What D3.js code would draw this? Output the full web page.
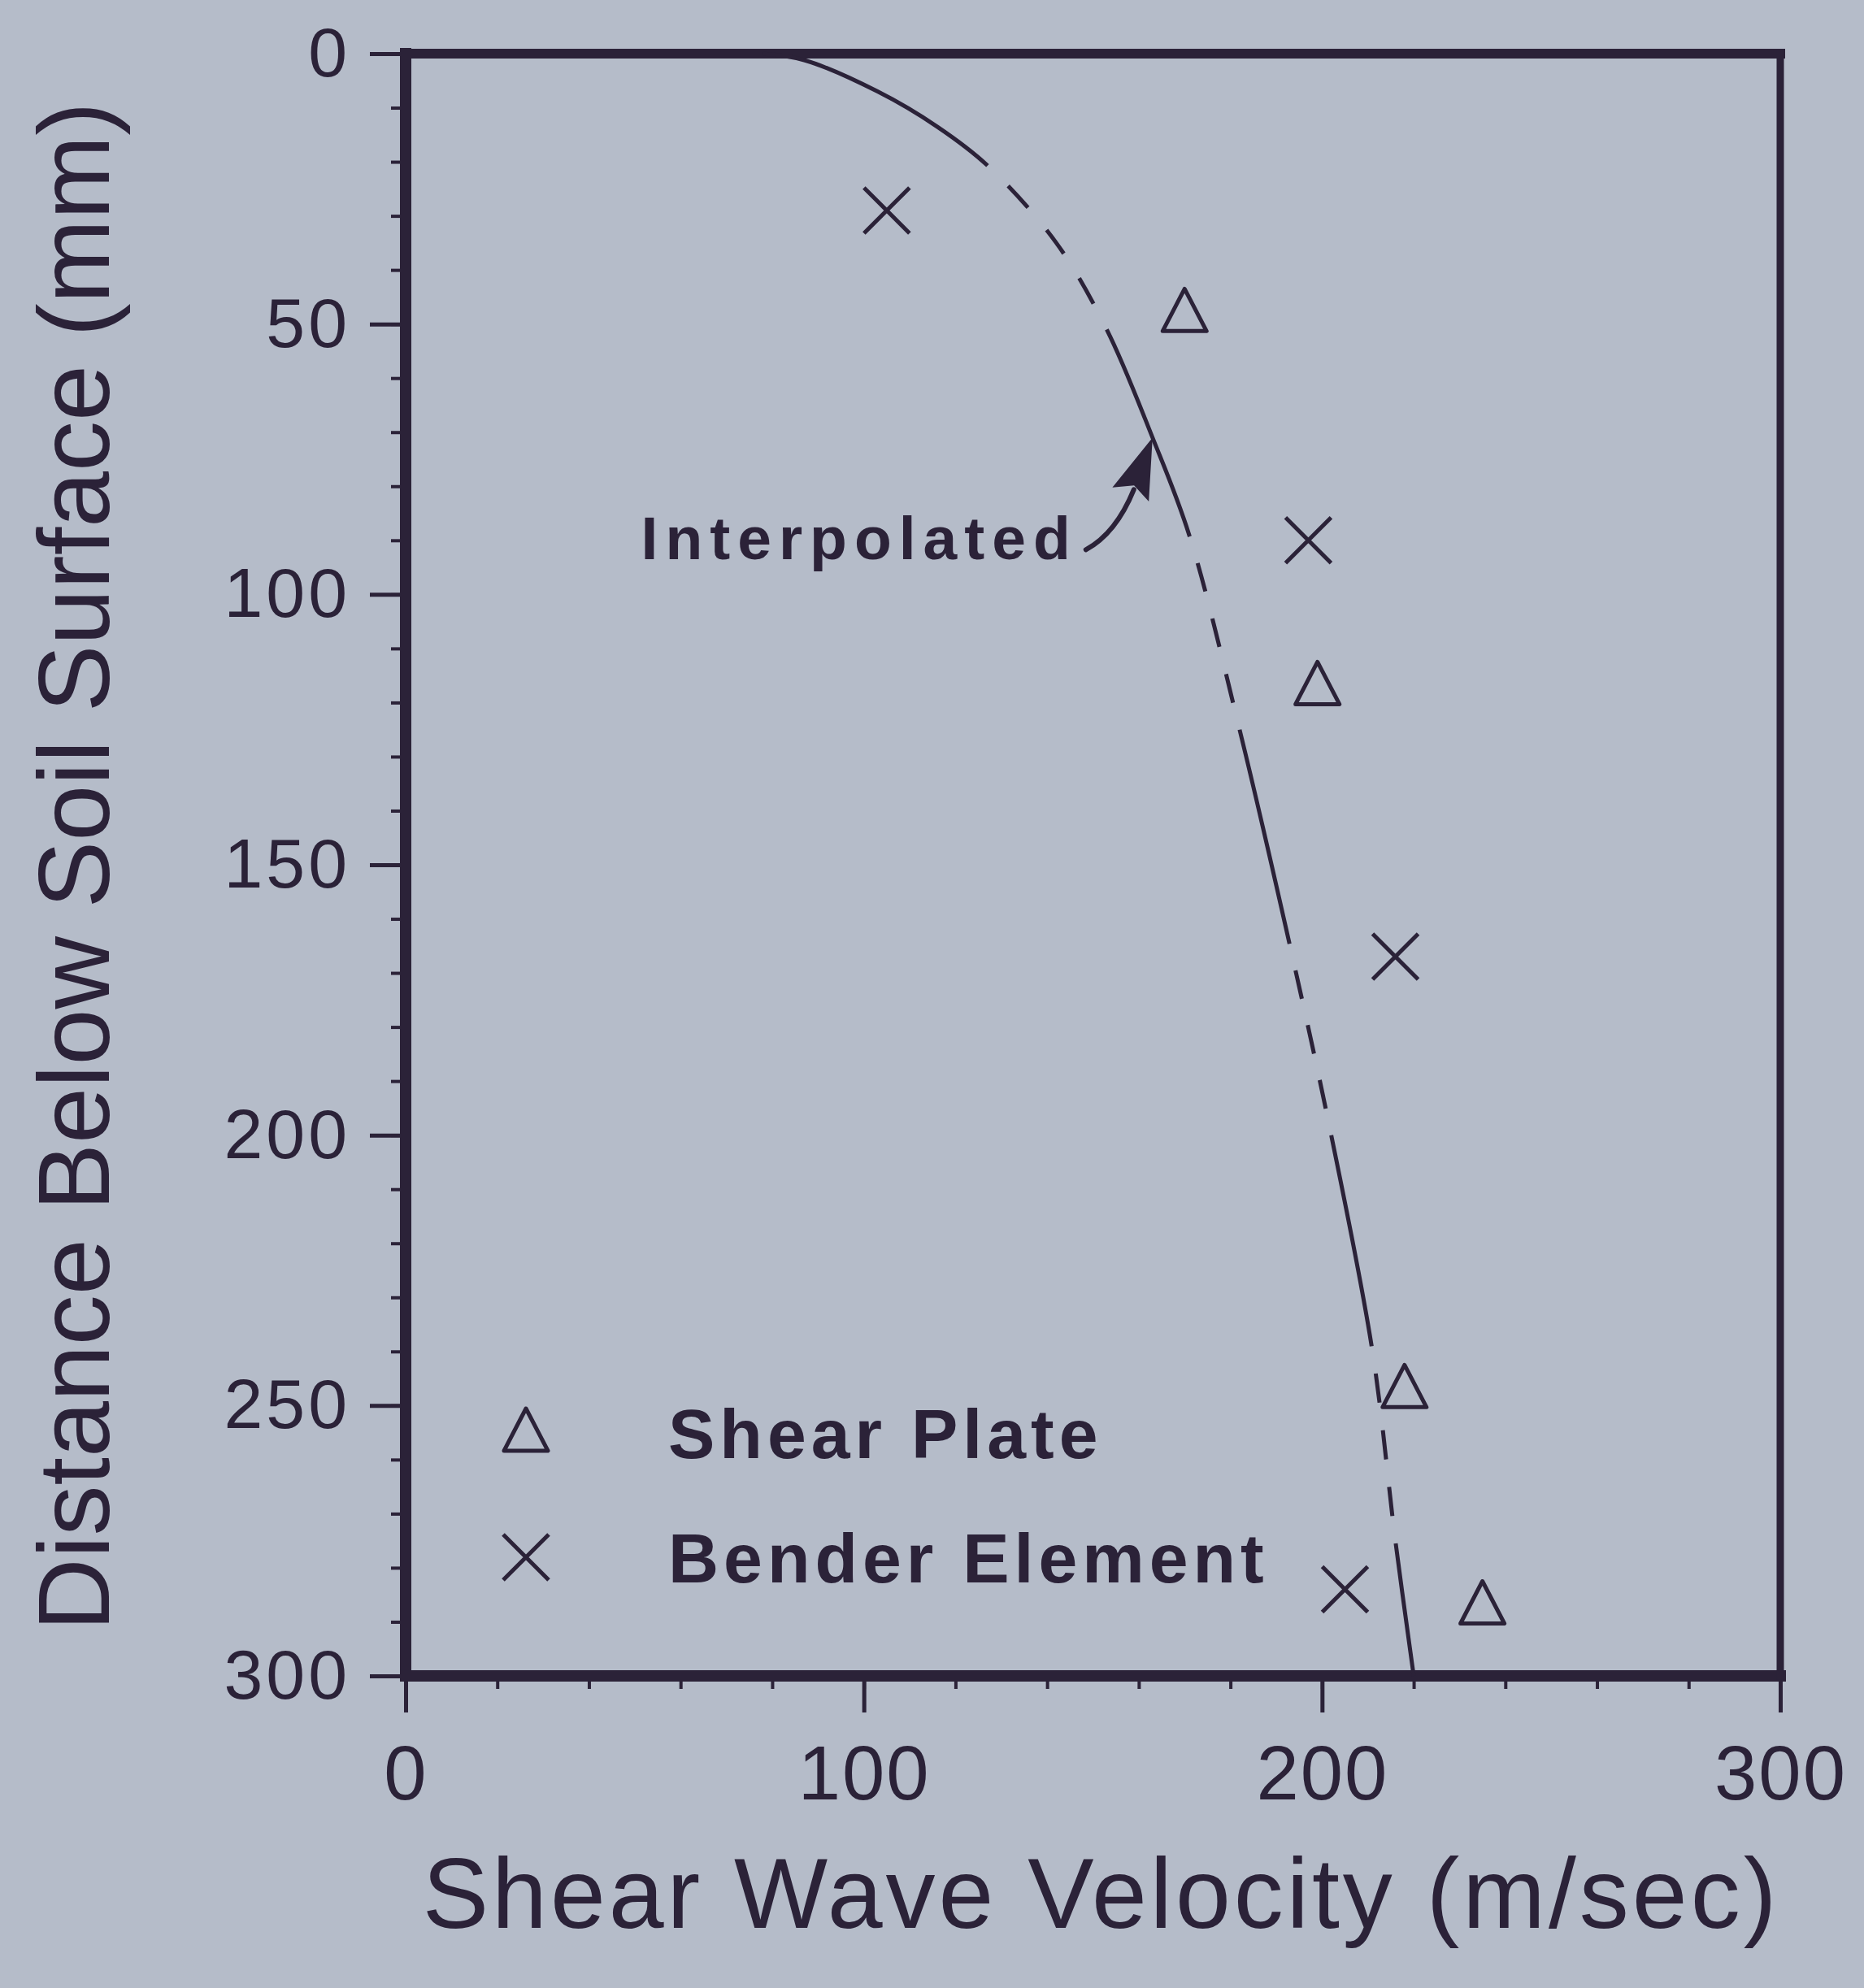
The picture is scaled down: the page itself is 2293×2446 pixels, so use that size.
<!DOCTYPE html>
<html>
<head>
<meta charset="utf-8">
<script src="https://cdn.jsdelivr.net/npm/d3@7"></script>
<style>
  html, body { margin: 0; padding: 0; background: #b5bcc9; }
  svg { display: block; }
</style>
</head>
<body>
<div id="chart"></div>
<script>
// values
const depthTicks = [0, 50, 100, 150, 200, 250, 300];
const velocityTicks = [0, 100, 200, 300];

// Shear Plate (triangles)
const plateVel = [170, 199, 218, 235];
const plateDepth = [48, 117, 247, 287];

// Bender Element (crosses)
const benderVel = [105, 197, 216, 205];
const benderDepth = [29, 90, 167, 284];

// fitted profile
const curveVel = [78, 87, 103, 116, 127, 142, 153, 163, 171, 182, 193, 202, 211, 216, 220];
const curveDepth = [0, 1.2, 7, 13.5, 20.7, 35, 51, 71, 89, 125, 165, 200, 240, 275, 300];

// depth ranges drawn solid, the rest is dashed (interpolated)
const solidFrom = [0, 51, 125, 200, 275.5];
const solidTo = [20.7, 89.3, 164.6, 239, 300];

const W = 2293, H = 2446;
const ink = "#2b2238";
const font = "'Liberation Sans', Arial, sans-serif";

const x = d3.scaleLinear().domain([0, 300]).range([499, 2190]);
const y = d3.scaleLinear().domain([0, 300]).range([66, 2062]);

const svg = d3.select("#chart").append("svg")
  .attr("width", W)
  .attr("height", H)
  .style("background", "#b5bcc9");

// minor ticks
svg.append("g")
  .attr("transform", `translate(${x(0)},0)`)
  .call(d3.axisLeft(y).tickValues(d3.range(0, 301, 10)).tickSize(18).tickFormat(""))
  .call(g => g.select(".domain").remove())
  .call(g => g.selectAll("line").attr("stroke", ink).attr("stroke-width", 4));

svg.append("g")
  .attr("transform", `translate(0,${y(300)})`)
  .call(d3.axisBottom(x).tickValues(d3.range(0, 301, 20)).tickSize(16).tickFormat(""))
  .call(g => g.select(".domain").remove())
  .call(g => g.selectAll("line").attr("stroke", ink).attr("stroke-width", 4));

// major ticks + labels
svg.append("g")
  .attr("transform", `translate(${x(0)},0)`)
  .call(d3.axisLeft(y).tickValues(depthTicks).tickSize(44).tickPadding(24))
  .call(g => g.select(".domain").remove())
  .call(g => g.selectAll("line").attr("stroke", ink).attr("stroke-width", 5))
  .call(g => g.selectAll("text")
    .attr("fill", ink)
    .style("font-family", font)
    .style("font-size", "86px")
    .style("letter-spacing", "4px"));

svg.append("g")
  .attr("transform", `translate(0,${y(300)})`)
  .call(d3.axisBottom(x).tickValues(velocityTicks).tickSize(45).tickPadding(40))
  .call(g => g.select(".domain").remove())
  .call(g => g.selectAll("line").attr("stroke", ink).attr("stroke-width", 5))
  .call(g => g.selectAll("text")
    .attr("fill", ink)
    .style("font-family", font)
    .style("font-size", "94px")
    .style("letter-spacing", "2px"));

// frame
const frame = svg.append("g").attr("stroke", ink).attr("stroke-linecap", "square");
frame.append("line").attr("x1", x(0)).attr("x2", x(300)).attr("y1", y(0)).attr("y2", y(0)).attr("stroke-width", 12);
frame.append("line").attr("x1", x(0)).attr("x2", x(300)).attr("y1", y(300)).attr("y2", y(300)).attr("stroke-width", 14);
frame.append("line").attr("x1", x(0)).attr("x2", x(0)).attr("y1", y(0)).attr("y2", y(300)).attr("stroke-width", 14);
frame.append("line").attr("x1", x(300)).attr("x2", x(300)).attr("y1", y(0)).attr("y2", y(300)).attr("stroke-width", 9);

// axis titles
svg.append("text")
  .attr("x", (x(0) + x(300)) / 2 + 10)
  .attr("y", 2372)
  .attr("text-anchor", "middle")
  .attr("fill", ink)
  .style("font-family", font)
  .style("font-size", "122px")
  .style("letter-spacing", "4px")
  .text("Shear Wave Velocity (m/sec)");

svg.append("text")
  .attr("transform", `translate(134,${(y(0) + y(300)) / 2 + 2}) rotate(-90)`)
  .attr("text-anchor", "middle")
  .attr("fill", ink)
  .style("font-family", font)
  .style("font-size", "124px")
  .text("Distance Below Soil Surface (mm)");

// fitted line, solid where measured, dashed where interpolated
const line = d3.line()
  .x(d => x(d[0]))
  .y(d => y(d[1]))
  .curve(d3.curveCatmullRom.alpha(0.5));

const profile = svg.append("path")
  .datum(d3.zip(curveVel, curveDepth))
  .attr("d", line)
  .attr("fill", "none")
  .attr("stroke", ink)
  .attr("stroke-width", 5);

const node = profile.node();
const total = node.getTotalLength();

function lengthAt(depth) {
  const target = y(depth);
  let lo = 0, hi = total;
  for (let i = 0; i < 40; i++) {
    const mid = (lo + hi) / 2;
    if (node.getPointAtLength(mid).y < target) lo = mid; else hi = mid;
  }
  return (lo + hi) / 2;
}

const dash = 36, gap = 32;
const pieces = [];
function pushDashed(len) {
  const n = Math.max(1, Math.round((len - gap) / (dash + gap)));
  const g = (len - n * dash) / (n + 1);
  pieces.push(["off", g]);
  for (let i = 0; i < n; i++) { pieces.push(["on", dash]); pieces.push(["off", g]); }
}
let prev = 0;
solidFrom.forEach((d0, i) => {
  const a = d0 <= 0 ? 0 : lengthAt(d0);
  const b = solidTo[i] >= 300 ? total : lengthAt(solidTo[i]);
  if (a > prev + 1) pushDashed(a - prev);
  pieces.push(["on", b - a]);
  prev = b;
});
if (prev < total - 1) pushDashed(total - prev);

const merged = [];
pieces.forEach(p => {
  if (merged.length && merged[merged.length - 1][0] === p[0]) merged[merged.length - 1][1] += p[1];
  else merged.push([p[0], p[1]]);
});
if (merged.length % 2) merged.push(["off", 0]);
profile.attr("stroke-dasharray", merged.map(p => p[1].toFixed(2)).join(","));

// symbols
const triPath = "M0,-30 L27,22 L-27,22 Z";
const crossPath = "M-28,-28 L28,28 M-28,28 L28,-28";

svg.append("g").selectAll("path")
  .data(d3.zip(plateVel, plateDepth))
  .join("path")
  .attr("transform", d => `translate(${x(d[0])},${y(d[1])})`)
  .attr("d", triPath)
  .attr("fill", "none")
  .attr("stroke", ink)
  .attr("stroke-width", 5)
  .attr("stroke-linejoin", "round");

svg.append("g").selectAll("path")
  .data(d3.zip(benderVel, benderDepth))
  .join("path")
  .attr("transform", d => `translate(${x(d[0])},${y(d[1])})`)
  .attr("d", crossPath)
  .attr("fill", "none")
  .attr("stroke", ink)
  .attr("stroke-width", 5);

// "Interpolated" annotation pointing at the line
const tip = [x(163), y(71)];
svg.append("text")
  .attr("x", tip[0] - 92)
  .attr("y", tip[1] + 150)
  .attr("text-anchor", "end")
  .attr("fill", ink)
  .style("font-family", font)
  .style("font-size", "75px")
  .style("font-weight", "bold")
  .style("letter-spacing", "9px")
  .text("Interpolated");

const shaftStart = [tip[0] - 82, tip[1] + 138];
const base = [tip[0] - 27, tip[1] + 70];
svg.append("path")
  .attr("d", `M${shaftStart[0]},${shaftStart[1]} Q${tip[0] - 45},${tip[1] + 118} ${base[0] + 4},${base[1] - 6}`)
  .attr("fill", "none")
  .attr("stroke", ink)
  .attr("stroke-width", 6)
  .attr("stroke-linecap", "round");

const ux = (tip[0] - base[0]), uy = (tip[1] - base[1]);
const ul = Math.hypot(ux, uy);
const px = -uy / ul, py = ux / ul;
svg.append("path")
  .attr("d", `M${tip[0]},${tip[1]} L${base[0] + px * 24},${base[1] + py * 24} L${base[0] + ux / ul * 12},${base[1] + uy / ul * 12} L${base[0] - px * 24},${base[1] - py * 24} Z`)
  .attr("fill", ink);

// legend
const legend = svg.append("g").attr("transform", `translate(${x(0) + 148},1763)`);
const legendItems = [
  { label: "Shear Plate", symbol: triPath, dy: 0 },
  { label: "Bender Element", symbol: crossPath, dy: 153 }
];
legendItems.forEach(item => {
  legend.append("path")
    .attr("transform", `translate(0,${item.dy})`)
    .attr("d", item.symbol)
    .attr("fill", "none")
    .attr("stroke", ink)
    .attr("stroke-width", 5)
    .attr("stroke-linejoin", "round");
  legend.append("text")
    .attr("x", 175)
    .attr("y", item.dy + 31)
    .attr("fill", ink)
    .style("font-family", font)
    .style("font-size", "86px")
    .style("font-weight", "bold")
    .style("letter-spacing", "6px")
    .text(item.label);
});
</script>
</body>
</html>
